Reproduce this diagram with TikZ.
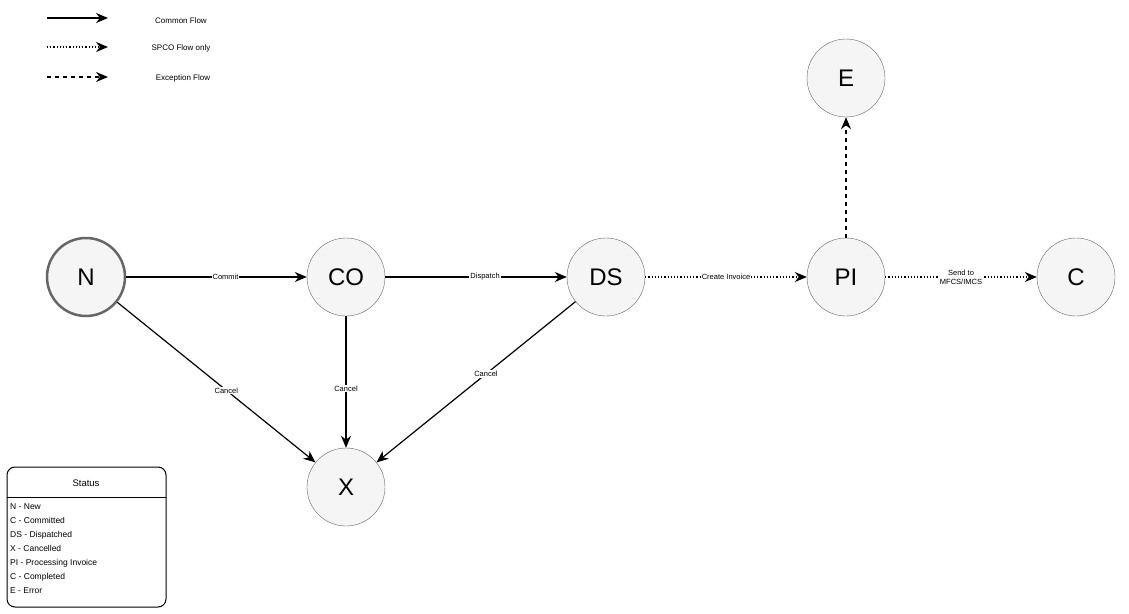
\documentclass[tikz,border=0pt]{standalone}
\usepackage{fontspec}
\setmainfont{Liberation Sans}
\usetikzlibrary{arrows.meta}
\definecolor{nodefill}{HTML}{F5F5F5}
\definecolor{nodeline}{HTML}{666666}

\begin{document}
\begin{tikzpicture}[x=1pt,y=-1pt,
  state/.style={circle,draw=nodeline,fill=nodefill,minimum size=78pt,inner sep=0pt,font=\fontsize{24}{24}\selectfont},
  flow/.style={-{Stealth[length=12pt,width=10pt]},line width=1.2pt},
  spco/.style={flow,dotted},
  excp/.style={flow,dash pattern=on 4pt off 4pt},
  lbl/.style={fill=white,inner sep=1pt,font=\fontsize{7.5}{9}\selectfont},
  legendtext/.style={font=\fontsize{8}{9}\selectfont}]
\useasboundingbox (0,0) rectangle (1129,613);

% legend
\coordinate (la1) at (47,18);  \coordinate (lb1) at (108,18);
\coordinate (la2) at (47,47);  \coordinate (lb2) at (108,47);
\coordinate (la3) at (47,77);  \coordinate (lb3) at (108,77);
\draw[flow] (la1) -- (lb1);
\draw[spco] (la2) -- (lb2);
\draw[excp] (la3) -- (lb3);
\node[legendtext] (lt1) at (181,21) {Common Flow};
\node[legendtext] (lt2) at (181,48) {SPCO Flow only};
\node[legendtext] (lt3) at (183,78) {Exception Flow};

% states
\node[state,line width=2.5pt] (N) at (86,277) {N};
\node[state] (CO) at (346,277) {CO};
\node[state] (DS) at (606,277) {DS};
\node[state] (PI) at (846,277) {PI};
\node[state] (C) at (1076,277) {C};
\node[state] (E) at (846,78) {E};
\node[state] (X) at (346,487) {X};

% transitions
\draw[flow] (N) -- node[lbl,pos=0.55] {Commit} (CO);
\draw[flow] (CO) -- node[lbl,pos=0.55] {Dispatch} (DS);
\draw[spco] (DS) -- node[lbl] {Create Invoice} (PI);
\draw[spco] (PI) -- node[lbl,align=center] {Send to\\MFCS/IMCS} (C);
\draw[excp] (PI) -- (E);
\draw[flow] (N) -- node[lbl,pos=0.55] {Cancel} (X);
\draw[flow] (CO) -- node[lbl,pos=0.55] {Cancel} (X);
\draw[flow] (DS) -- node[lbl,pos=0.45] {Cancel} (X);

% status box
\draw[rounded corners=8pt,line width=1pt] (7,467) rectangle (166,607);
\draw[line width=1pt] (7,497) -- (166,497);
\node[font=\fontsize{9.5}{11}\selectfont] (sthead) at (86,483) {Status};
\node[anchor=north west,align=left,inner sep=0pt,font=\fontsize{8.5}{14}\selectfont] (stlist) at (10,503)
  {N - New\\C - Committed\\DS - Dispatched\\X - Cancelled\\PI - Processing Invoice\\C - Completed\\E - Error};
\end{tikzpicture}
\end{document}
